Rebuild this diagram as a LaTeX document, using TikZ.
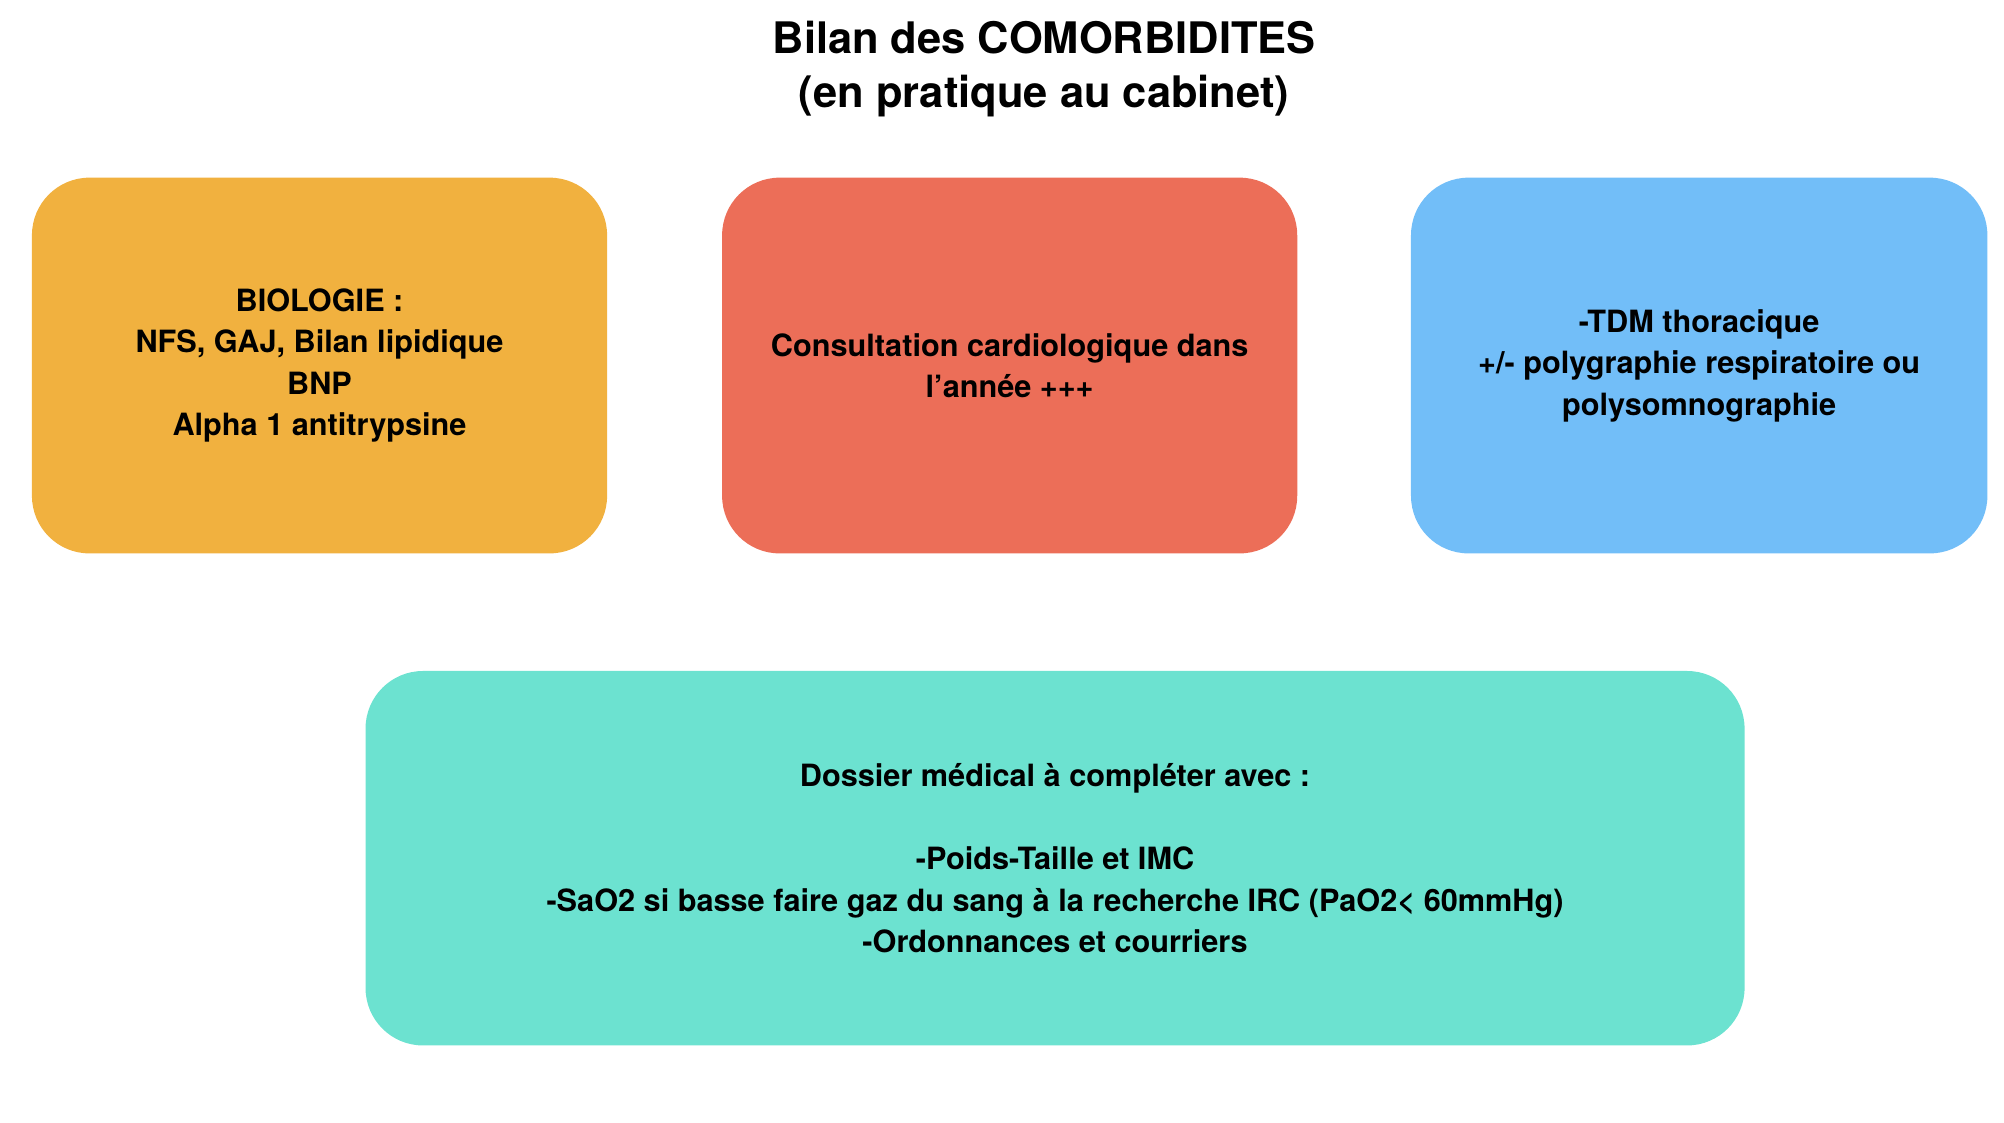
\documentclass[tikz,border=0pt]{standalone}
\usepackage{fontspec}
\setmainfont{TeX Gyre Heros}
\definecolor{bioorange}{HTML}{F1B13F}
\definecolor{cardred}{HTML}{EC6E58}
\definecolor{tdmblue}{HTML}{72BEF8}
\definecolor{dossiergreen}{HTML}{6CE2D0}
\tikzset{
  card/.style={rounded corners=45pt, inner sep=0pt, align=center,
    font=\fontsize{24}{32.5}\selectfont\bfseries},
  title/.style={align=center, font=\fontsize{34}{42}\selectfont\bfseries}
}
\begin{document}
\begin{tikzpicture}[x=1pt,y=-1pt]
  \useasboundingbox (0,0) rectangle (1568,878);
  % titre
  \node [title] (titre) at (817,54) {Bilan des COMORBIDITES\\(en pratique au cabinet)};
  % boites du haut
  \node [card, fill=bioorange, minimum width=450pt, minimum height=294pt] (bio) at (250,286)
    {BIOLOGIE :\\NFS, GAJ, Bilan lipidique\\BNP\\Alpha 1 antitrypsine};
  \node [card, fill=cardred, minimum width=450pt, minimum height=294pt] (cardio) at (790,286)
    {Consultation cardiologique dans\\l’année +++};
  \node [card, fill=tdmblue, minimum width=451pt, minimum height=294pt] (tdm) at (1329.5,286)
    {-TDM thoracique\\+/- polygraphie respiratoire ou\\polysomnographie};
  % boite du bas
  \node [card, fill=dossiergreen, minimum width=1079pt, minimum height=293pt] (dossier) at (825.5,671.5)
    {Dossier médical à compléter avec :\\[32.5pt]-Poids-Taille et IMC\\-SaO2 si basse faire gaz du sang à la recherche IRC (PaO2< 60mmHg)\\-Ordonnances et courriers};
\end{tikzpicture}
\end{document}
